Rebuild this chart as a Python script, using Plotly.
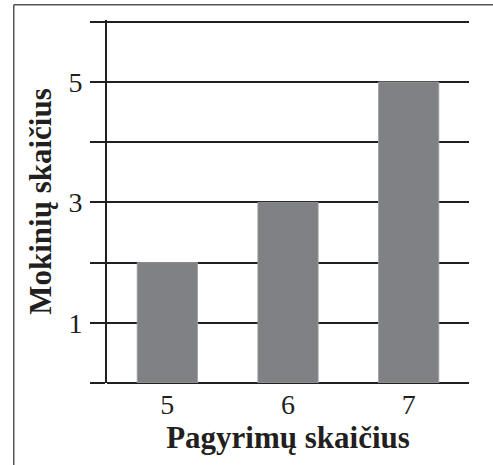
import plotly.graph_objects as go

categories = [5, 6, 7]
values = [2, 3, 5]
y_tickvals = [0, 1, 2, 3, 4, 5, 6]
y_ticktext = ["", "1", "", "3", "", "5", ""]
x_title = "Pagyrimų skaičius"
y_title = "Mokinių skaičius"

FONT = "Liberation Serif"
INK = "#231f20"

fig = go.Figure()
fig.add_trace(go.Bar(
    x=categories, y=values, width=0.5,
    marker=dict(color="#808184", line=dict(color="#a0a1a4", width=0.8)),
))

W, H = 493, 465
Y_TOP = 6.03
unit = (383 - 22) / 6.0
ph = unit * Y_TOP
B = H - 383
T = H - B - ph
L, R = 106.5, 23.5
pw = W - L - R

fig.update_layout(
    width=W, height=H,
    margin=dict(l=L, r=R, t=T, b=B, pad=0),
    paper_bgcolor="white", plot_bgcolor="white",
    showlegend=False,
    font=dict(family=FONT, color=INK, size=28),
    xaxis=dict(
        range=[4.5, 7.5], tickvals=categories, ticktext=[str(c) for c in categories],
        showgrid=False, zeroline=False, showline=False, ticks="",
        tickfont=dict(size=28, family=FONT, color=INK),
        ticklabelstandoff=2,
        title=dict(text=f"<b>{x_title}</b>", font=dict(size=31, family=FONT, color=INK), standoff=0),
    ),
    yaxis=dict(
        range=[0, Y_TOP], tickvals=y_tickvals, ticktext=y_ticktext,
        showgrid=True, gridcolor=INK, gridwidth=2,
        zeroline=True, zerolinecolor=INK, zerolinewidth=2,
        showline=True, linecolor=INK, linewidth=2,
        ticks="outside", ticklen=15, tickwidth=2, tickcolor=INK,
        tickfont=dict(size=28, family=FONT, color=INK),
        ticklabelstandoff=2,
        title=dict(text=f"<b>{y_title}</b>", font=dict(size=31, family=FONT, color=INK), standoff=8),
    ),
)

# decorative frame (left and top edges of the figure box)
x0 = (13 - L) / pw
y0 = (H - B - 5) / ph
fig.add_shape(type="line", xref="paper", yref="paper", x0=x0, y0=y0, x1=(W + 10 - L) / pw, y1=y0,
              line=dict(color="#555555", width=1.5), layer="above")
fig.add_shape(type="line", xref="paper", yref="paper", x0=x0, y0=y0, x1=x0, y1=-(B + 10) / ph,
              line=dict(color="#555555", width=1.5), layer="above")

fig.write_html("out.html", config={"displayModeBar": False},
               post_script="document.body.style.margin='0';document.body.style.padding='0';")
